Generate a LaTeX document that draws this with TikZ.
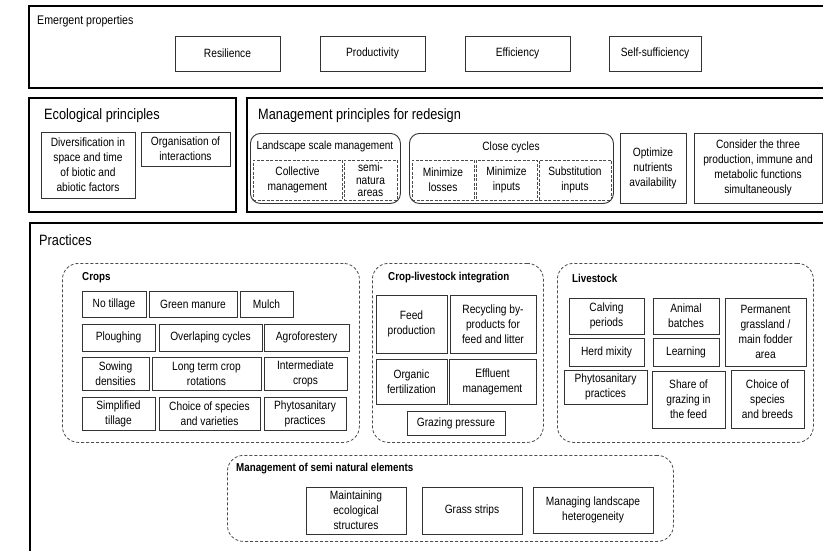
\documentclass[tikz,border=0pt]{standalone}
\usepackage{fontspec}
\setmainfont{Liberation Sans}[FakeStretch=0.85]
\usetikzlibrary{positioning}

\begin{document}
\begin{tikzpicture}
	[x=1pt, y=-1pt,
	 frame/.style={draw=black, line width=2pt},
	 prop/.style={draw=black!80, line width=0.9pt, align=center, inner sep=1pt, outer sep=0pt,
	   font=\fontsize{12}{15}\selectfont},
	 dashbox/.style={prop, draw=black!70, dash pattern=on 3pt off 1.5pt},
	 grp/.style={draw=black!70, line width=0.8pt, dash pattern=on 3pt off 2pt, rounded corners=16pt,
	   anchor=north west, inner sep=0pt},
	 subgrp/.style={draw=black!80, line width=0.9pt, rounded corners=10pt, anchor=north west, inner sep=0pt},
	 head/.style={anchor=west, inner sep=0pt, font=\fontsize{15}{17}\selectfont},
	 grphead/.style={anchor=west, inner sep=0pt, font=\fontsize{11.5}{13}\bfseries\selectfont}]
	\clip (0,0) rectangle (823,550);
	\fill[white] (0,0) rectangle (823,550);

	% emergent properties
	\draw[frame] (29,6) rectangle (840,88);
	\node[head, font=\fontsize{12.5}{14}\selectfont] (emerg) at (37,21) {Emergent properties};
	\node[prop, minimum width=105, minimum height=35, anchor=north west] (resil) at (175,36) {Resilience};
	\node[prop, minimum width=105, minimum height=35] (prod) [right = 40pt of resil] {Productivity};
	\node[prop, minimum width=105, minimum height=35] (effic) [right = 40pt of prod] {Efficiency};
	\node[prop, minimum width=92, minimum height=35] (selfs) [right = 39pt of effic] {Self-sufficiency};

	% ecological principles
	\draw[frame] (29,98) rectangle (236,212);
	\node[head] (ecol) at (44,116) {Ecological principles};
	\node[prop, minimum width=94, minimum height=66, anchor=north west] (divers) at (41,132)
		{Diversification in\\space and time\\of biotic and\\abiotic factors};
	\node[prop, minimum width=89, minimum height=34, anchor=north west] (organ) at (141,132)
		{Organisation of\\interactions};

	% management principles
	\draw[frame] (247,98) rectangle (840,212);
	\node[head] (manag) at (258,116) {Management principles for redesign};
	\node[subgrp, minimum width=150, minimum height=70] (lsm) at (250,133) {};
	\node[inner sep=0pt, font=\fontsize{11.8}{13}\selectfont] (lsmt) at (325,146) {Landscape scale management};
	\node[dashbox, minimum width=89, minimum height=40, anchor=north west] (collm) at (253,160)
		{Collective\\management};
	\node[dashbox, minimum width=53, minimum height=40, anchor=north west,
		font=\fontsize{12}{12.5}\selectfont] (semin) at (344,160) {semi-\\natura\\areas};
	\node[subgrp, minimum width=204, minimum height=70] (ccyc) at (409,133) {};
	\node[inner sep=0pt, font=\fontsize{12}{13}\selectfont] (ccyct) at (511,147) {Close cycles};
	\node[dashbox, minimum width=62, minimum height=40, anchor=north west] (minl) at (412,160)
		{Minimize\\losses};
	\node[dashbox, minimum width=61, minimum height=40, anchor=north west] (mini) at (476,160)
		{Minimize\\inputs};
	\node[dashbox, minimum width=72, minimum height=40, anchor=north west] (subst) at (539,160)
		{Substitution\\inputs};
	\node[prop, minimum width=66, minimum height=70, anchor=north west] (optim) at (620,133)
		{Optimize\\nutrients\\availability};
	\node[prop, minimum width=128, minimum height=70, anchor=north west] (consid) at (694,133)
		{Consider the three\\production, immune and\\metabolic functions\\simultaneously};

	% practices
	\draw[frame] (30,223) rectangle (840,570);
	\node[head] (pract) at (39,240) {Practices};

	% crops
	\node[grp, minimum width=297, minimum height=179] (crops) at (62,263) {};
	\node[grphead] (cropst) at (82,278) {Crops};
	\node[prop, minimum width=64, minimum height=26, anchor=north west] (notil) at (82,291) {No tillage};
	\node[prop, minimum width=88, minimum height=26] (greenm) [right = 3pt of notil] {Green manure};
	\node[prop, minimum width=53, minimum height=26] (mulch) [right = 3pt of greenm] {Mulch};
	\node[prop, minimum width=73, minimum height=27, anchor=north west] (plough) at (82,324) {Ploughing};
	\node[prop, minimum width=103, minimum height=27] (overl) [right = 4pt of plough] {Overlaping cycles};
	\node[prop, minimum width=85, minimum height=27] (agrof) [right = 2pt of overl] {Agroforestery};
	\node[prop, minimum width=67, minimum height=33, anchor=north west] (sowing) at (82,357) {Sowing\\densities};
	\node[prop, minimum width=109, minimum height=33] (longt) [right = 3pt of sowing] {Long term crop\\rotations};
	\node[prop, minimum width=83, minimum height=33] (interm) [right = 3pt of longt] {Intermediate\\crops};
	\node[prop, minimum width=73, minimum height=33, anchor=north west] (simpl) at (82,397) {Simplified\\tillage};
	\node[prop, minimum width=101, minimum height=33] (choicev) [right = 4pt of simpl] {Choice of species\\and varieties};
	\node[prop, minimum width=82, minimum height=33] (phytoc) [right = 4pt of choicev] {Phytosanitary\\practices};

	% crop-livestock integration
	\node[grp, minimum width=171, minimum height=179] (cli) at (372,263) {};
	\node[grphead] (clit) at (388,278) {Crop-livestock integration};
	\node[prop, minimum width=71, minimum height=58, anchor=north west] (feedp) at (376,295) {Feed\\production};
	\node[prop, minimum width=86, minimum height=58] (recyc) [right = 3pt of feedp] {Recycling by-\\products for\\feed and litter};
	\node[prop, minimum width=71, minimum height=45, anchor=north west] (orgf) at (376,359) {Organic\\fertilization};
	\node[prop, minimum width=87, minimum height=45] (efflu) [right = 2pt of orgf] {Effluent\\management};
	\node[prop, minimum width=98, minimum height=24, anchor=north west] (grazp) at (407,411) {Grazing pressure};

	% livestock
	\node[grp, minimum width=256, minimum height=179] (lives) at (557,263) {};
	\node[grphead] (livest) at (572,278) {Livestock};
	\node[prop, minimum width=75, minimum height=36, anchor=north west] (calv) at (569,298) {Calving\\periods};
	\node[prop, minimum width=66, minimum height=36, anchor=north west] (batch) at (653,298) {Animal\\batches};
	\node[prop, minimum width=81, minimum height=68, anchor=north west] (permg) at (725,298)
		{Permanent\\grassland /\\main fodder\\area};
	\node[prop, minimum width=75, minimum height=28, anchor=north west] (herdm) at (569,338) {Herd mixity};
	\node[prop, minimum width=66, minimum height=28, anchor=north west] (learn) at (653,338) {Learning};
	\node[prop, minimum width=83, minimum height=34, anchor=north west] (phytol) at (564,370) {Phytosanitary\\practices};
	\node[prop, minimum width=73, minimum height=57, anchor=north west] (shareg) at (652,371)
		{Share of\\grazing in\\the feed};
	\node[prop, minimum width=73, minimum height=58, anchor=north west] (choiceb) at (731,370)
		{Choice of\\species\\and breeds};

	% semi natural elements
	\node[grp, minimum width=446, minimum height=86] (semi) at (227,455) {};
	\node[grphead] (semit) at (236,469) {Management of semi natural elements};
	\node[prop, minimum width=100, minimum height=47, anchor=north west] (maint) at (306,487)
		{Maintaining\\ecological\\structures};
	\node[prop, minimum width=100, minimum height=47, anchor=north west] (grass) at (422,487) {Grass strips};
	\node[prop, minimum width=120, minimum height=46, anchor=north west] (hetero) at (533,487)
		{Managing landscape\\heterogeneity};
\end{tikzpicture}
\end{document}
